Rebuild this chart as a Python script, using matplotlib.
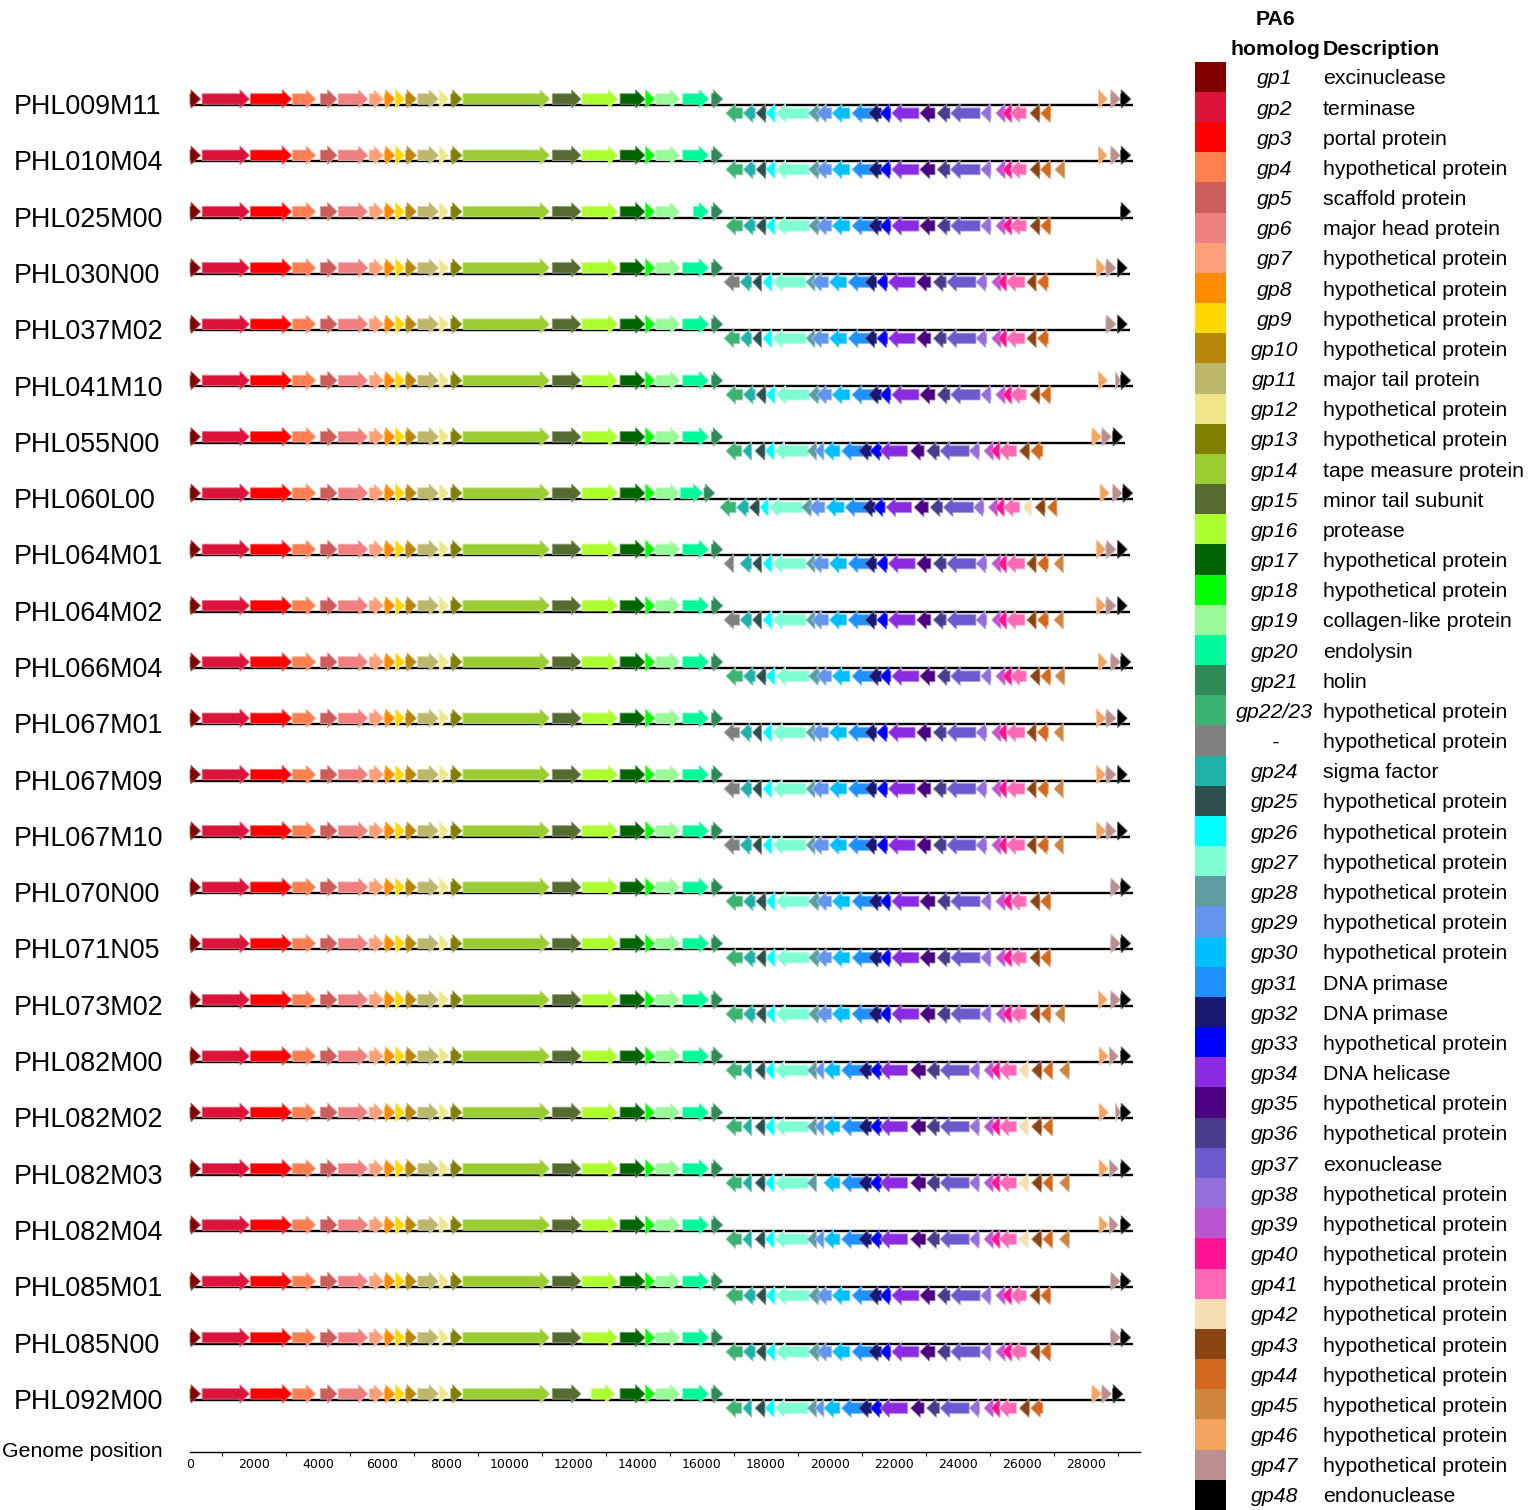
import matplotlib
matplotlib.use('Agg')
import matplotlib.pyplot as plt
from matplotlib.patches import Polygon
from matplotlib.colors import to_rgb

W, H = 1532, 1510

genomes = ['PHL009M11', 'PHL010M04', 'PHL025M00', 'PHL030N00', 'PHL037M02', 'PHL041M10',
           'PHL055N00', 'PHL060L00', 'PHL064M01', 'PHL064M02', 'PHL066M04', 'PHL067M01',
           'PHL067M09', 'PHL067M10', 'PHL070N00', 'PHL071N05', 'PHL073M02', 'PHL082M00',
           'PHL082M02', 'PHL082M03', 'PHL082M04', 'PHL085M01', 'PHL085N00', 'PHL092M00']

# legend table
homologs = ['gp1', 'gp2', 'gp3', 'gp4', 'gp5', 'gp6', 'gp7', 'gp8', 'gp9', 'gp10', 'gp11', 'gp12',
            'gp13', 'gp14', 'gp15', 'gp16', 'gp17', 'gp18', 'gp19', 'gp20', 'gp21', 'gp22/23', '-',
            'gp24', 'gp25', 'gp26', 'gp27', 'gp28', 'gp29', 'gp30', 'gp31', 'gp32', 'gp33', 'gp34',
            'gp35', 'gp36', 'gp37', 'gp38', 'gp39', 'gp40', 'gp41', 'gp42', 'gp43', 'gp44', 'gp45',
            'gp46', 'gp47', 'gp48']
hp = 'hypothetical protein'
descriptions = ['excinuclease', 'terminase', 'portal protein', hp, 'scaffold protein',
                'major head protein', hp, hp, hp, hp, 'major tail protein', hp, hp,
                'tape measure protein', 'minor tail subunit', 'protease', hp, hp,
                'collagen-like protein', 'endolysin', 'holin', hp, hp, 'sigma factor',
                hp, hp, hp, hp, hp, hp, 'DNA primase', 'DNA primase', hp, 'DNA helicase',
                hp, hp, 'exonuclease', hp, hp, hp, hp, hp, hp, hp, hp, hp, hp, 'endonuclease']
colors = ['#800000', '#DC143C', '#FF0000', '#FF7F50', '#CD5C5C', '#F08080', '#FFA07A', '#FF8C00',
          '#FFD700', '#B8860B', '#BDB76B', '#F0E68C', '#808000', '#9ACD32', '#556B2F', '#ADFF2F',
          '#006400', '#00FF00', '#98FB98', '#00FA9A', '#2E8B57', '#3CB371', '#808080', '#20B2AA',
          '#2F4F4F', '#00FFFF', '#7FFFD4', '#5F9EA0', '#6495ED', '#00BFFF', '#1E90FF', '#191970',
          '#0000FF', '#8A2BE2', '#4B0082', '#483D8B', '#6A5ACD', '#9370DB', '#BA55D3', '#FF1493',
          '#FF69B4', '#F5DEB3', '#8B4513', '#D2691E', '#CD853F', '#F4A460', '#BC8F8F', '#000000']

# forward block shared by all genomes (bp)
fwd_genes = ['gp%d' % k for k in range(1, 22)]
fwd_start = [0, 380, 1890, 3200, 4070, 4630, 5600, 6080, 6420, 6740, 7120, 7790, 8150, 8530,
             11320, 12250, 13440, 14230, 14560, 15400, 16290]
fwd_end = [330, 1860, 3180, 3930, 4600, 5560, 6050, 6410, 6720, 7080, 7770, 8090, 8500, 11240,
           12220, 13370, 14220, 14530, 15310, 16210, 16650]

# tail layouts (bp)
layout_a = {'gp22': (16750, 17270), 'gp24': (17290, 17660), 'gp25': (17690, 18000),
            'gp26': (18000, 18280), 'gp27': (18310, 19350), 'gp28': (19330, 19670),
            'gp29': (19580, 20050), 'gp30': (20070, 20620), 'gp31': (20690, 21460),
            'gp32': (21200, 21610), 'gp33': (21560, 21900), 'gp34': (21930, 22780),
            'gp35': (22810, 23280), 'gp36': (23350, 23750), 'gp37': (23770, 24690),
            'gp38': (24710, 25030), 'gp39': (25180, 25470), 'gp40': (25380, 25680),
            'gp41': (25630, 26130), 'gp43': (26250, 26560), 'gp44': (26580, 26900),
            'gp45': (27030, 27340), 'gp46': (28390, 28670), 'gp47': (28770, 29080),
            'gp48': (29080, 29400)}
layout_b = {'gp22': (16690, 17170), 'gp24': (17190, 17550), 'gp25': (17580, 17860),
            'gp26': (17900, 18180), 'gp27': (18210, 19250), 'gp28': (19250, 19530),
            'gp29': (19430, 19950), 'gp30': (19980, 20520), 'gp31': (20570, 21350),
            'gp32': (21090, 21460), 'gp33': (21460, 21800), 'gp34': (21820, 22660),
            'gp35': (22710, 23150), 'gp36': (23230, 23630), 'gp37': (23650, 24560),
            'gp38': (24560, 24900), 'gp39': (25050, 25340), 'gp40': (25240, 25520),
            'gp41': (25500, 26090), 'gp43': (26150, 26440), 'gp44': (26480, 26820),
            'gp45': (27000, 27290), 'gp46': (28330, 28620), 'gp47': (28620, 28940),
            'gp48': (28980, 29290)}
layout_c = {'gp22': (16750, 17240), 'gp24': (17270, 17550), 'gp25': (17660, 17970),
            'gp26': (17970, 18250), 'gp27': (18280, 19320), 'gp28': (19290, 19580),
            'gp29': (19530, 19810), 'gp30': (19810, 20310), 'gp31': (20360, 21150),
            'gp32': (20890, 21300), 'gp33': (21250, 21610), 'gp34': (21560, 22420),
            'gp35': (22520, 22940), 'gp36': (23020, 23420), 'gp37': (23440, 24350),
            'gp38': (24350, 24670), 'gp39': (24810, 25100), 'gp40': (25020, 25310),
            'gp41': (25280, 25830), 'gp43': (25920, 26230), 'gp44': (26270, 26650),
            'gp46': (28180, 28490), 'gp47': (28490, 28800), 'gp48': (28830, 29150)}
layout_d = {'gp22': (16750, 17240), 'gp24': (17270, 17550), 'gp25': (17660, 17970),
            'gp26': (17970, 18250), 'gp27': (18280, 19320), 'gp28': (19290, 19580),
            'gp29': (19530, 19810), 'gp30': (19810, 20310), 'gp31': (20360, 21150),
            'gp32': (20890, 21300), 'gp33': (21250, 21610), 'gp34': (21560, 22420),
            'gp35': (22520, 22990), 'gp36': (23020, 23420), 'gp37': (23440, 24350),
            'gp38': (24350, 24670), 'gp39': (24810, 25100), 'gp40': (25020, 25310),
            'gp41': (25280, 25830), 'gp42': (25890, 26200), 'gp43': (26300, 26620),
            'gp44': (26650, 26960), 'gp45': (27170, 27480), 'gp46': (28410, 28700),
            'gp47': (28730, 29010), 'gp48': (29080, 29400)}
layout_e = {'gp22': (16560, 17060), 'gp24': (17080, 17450), 'gp25': (17480, 17790),
            'gp26': (17810, 18070), 'gp27': (18100, 19150), 'gp28': (19110, 19430),
            'gp29': (19350, 19840), 'gp30': (19880, 20440), 'gp31': (20470, 21200),
            'gp32': (21020, 21410), 'gp33': (21350, 21720), 'gp34': (21750, 22550),
            'gp35': (22630, 23070), 'gp36': (23130, 23520), 'gp37': (23540, 24480),
            'gp38': (24480, 24810), 'gp39': (24950, 25240), 'gp40': (25160, 25440),
            'gp41': (25420, 25920), 'gp42': (26020, 26300), 'gp43': (26410, 26720),
            'gp44': (26790, 27090), 'gp46': (28440, 28730), 'gp47': (28830, 29140),
            'gp48': (29140, 29460)}
layouts = {'A': layout_a, 'B': layout_b, 'C': layout_c, 'D': layout_d, 'E': layout_e}
layout_end = {'A': 29460, 'B': 29375, 'C': 29210, 'D': 29460, 'E': 29460}

genome_layout = ['A', 'A', 'A', 'B', 'B', 'A', 'C', 'E', 'B', 'B', 'A', 'B',
                 'B', 'B', 'A', 'A', 'A', 'D', 'D', 'D', 'D', 'A', 'A', 'C']
# first reverse gene: gp22/23 homolog or the unassigned grey one
genome_first = ['gp22', 'gp22', 'gp22', '-', 'gp22', 'gp22', 'gp22', 'gp22', '-', '-', 'gp22', '-',
                '-', '-', 'gp22', 'gp22', 'gp22', 'gp22', 'gp22', 'gp22', 'gp22', 'gp22', 'gp22', 'gp22']
genome_drop = [{'gp45'}, set(), {'gp45', 'gp46', 'gp47'}, {'gp45'}, {'gp45', 'gp46'}, {'gp45'},
               set(), set(), set(), set(), set(), set(),
               set(), set(), {'gp45', 'gp46'}, {'gp45', 'gp46'}, set(), set(),
               {'gp45'}, {'gp29'}, set(), {'gp45', 'gp46'}, {'gp45', 'gp46'}, set()]
genome_edit = [{}, {}, {'gp20': (15730, 16210)}, {}, {}, {'gp47': (28920, 29080)},
               {}, {'gp20': (15330, 16030), 'gp21': (16060, 16400)}, {'gp22': (16690, 16990)}, {}, {}, {},
               {}, {}, {}, {}, {}, {},
               {'gp47': (28920, 29080)}, {}, {}, {}, {}, {'gp16': (12540, 13280)}]

color_of = dict(zip(homologs, colors))
color_of['gp22'] = color_of['gp22/23']

# geometry (row units, bp)
ROW0, ROWSTEP = 105, 56.3
HEAD_LEN = 300
HEAD_H = 18.6 / ROWSTEP
BODY_H = 10.5 / ROWSTEP
FWD_Y = -6.0 / ROWSTEP
REV_Y = 8.2 / ROWSTEP

plt.rcParams['font.family'] = ['Liberation Sans', 'DejaVu Sans']

fig = plt.figure(figsize=(W / 100, H / 100), dpi=100)


def px_box(x0, y0, x1, y1):
    return [x0 / W, 1 - y1 / H, (x1 - x0) / W, (y1 - y0) / H]


AX_TOP, AX_BOT = 75, 1452
ax = fig.add_axes(px_box(180, AX_TOP, 1150, AX_BOT))
ax.set_xlim((180 - 190) / 0.032, (1150 - 190) / 0.032)
ax.set_ylim((AX_BOT - ROW0) / ROWSTEP, (AX_TOP - ROW0) / ROWSTEP)


def draw_gene(row, s, e, strand, col):
    hl = min(HEAD_LEN, e - s)
    hh, bh = HEAD_H / 2, BODY_H / 2
    yc = row + (FWD_Y if strand > 0 else REV_Y)
    if strand > 0:
        b = e - hl
        pts = [(s, yc - bh), (b, yc - bh), (b, yc - hh), (e, yc), (b, yc + hh), (b, yc + bh), (s, yc + bh)]
    else:
        b = s + hl
        pts = [(e, yc - bh), (b, yc - bh), (b, yc - hh), (s, yc), (b, yc + hh), (b, yc + bh), (e, yc + bh)]
    rgb = to_rgb(col)
    edge = tuple(0.6 * c + 0.4 for c in rgb)
    ax.add_patch(Polygon(pts, closed=True, facecolor=col, edgecolor=edge, lw=0.6, zorder=3))


for i, name in enumerate(genomes):
    lay = genome_layout[i]
    ax.plot([0, layout_end[lay]], [i, i], color='black', lw=1.7, zorder=2, solid_capstyle='butt')
    edits = genome_edit[i]
    for g, s, e in zip(fwd_genes, fwd_start, fwd_end):
        s, e = edits.get(g, (s, e))
        draw_gene(i, s, e, 1, color_of[g])
    for g, (s, e) in layouts[lay].items():
        if g in genome_drop[i]:
            continue
        s, e = edits.get(g, (s, e))
        strand = 1 if g in ('gp46', 'gp47', 'gp48') else -1
        col = color_of[genome_first[i]] if g == 'gp22' else color_of[g]
        draw_gene(i, s, e, strand, col)
    fig.text(14 / W, 1 - (ROW0 + i * ROWSTEP + 2) / H, name, fontsize=19.4, ha='left', va='center')

for sp in ['top', 'left', 'right']:
    ax.spines[sp].set_visible(False)
ax.spines['bottom'].set_bounds(0, 29700)
ax.spines['bottom'].set_linewidth(1.0)
ax.set_yticks([])
ax.set_xticks(range(0, 28001, 2000))
ax.set_xticklabels([str(v) for v in range(0, 28001, 2000)], fontsize=9, family='DejaVu Sans')
ax.set_xticks([0] + list(range(1000, 29001, 2000)), minor=True)
ax.tick_params(axis='x', which='major', length=0, pad=4)
ax.tick_params(axis='x', which='minor', length=3, width=0.8, direction='out')
fig.text(2 / W, 1 - 1457 / H, 'Genome position', fontsize=15.3, ha='left', va='baseline')

# legend
LG0, LGSTEP = 76.8, 30.17
lax = fig.add_axes([1180 / W, 0, 352 / W, 1])
lax.set_xlim(1180, 1532)
lax.set_ylim((H - LG0) / LGSTEP, -LG0 / LGSTEP)
lax.axis('off')
lax.barh(range(len(homologs)), 31, left=1195, height=1.0, color=colors)
for k, (hname, desc) in enumerate(zip(homologs, descriptions)):
    lax.text(1275, k + 0.07, hname, fontsize=15.3, style='italic', ha='center', va='center')
    lax.text(1323, k + 0.07, desc, fontsize=15.3, ha='left', va='center')
lax.text(1275, (19.3 - LG0) / LGSTEP, 'PA6', fontsize=15.3, weight='bold', ha='center', va='center')
lax.text(1275, (49.3 - LG0) / LGSTEP, 'homolog', fontsize=15.3, weight='bold', ha='center', va='center')
lax.text(1323, (49.3 - LG0) / LGSTEP, 'Description', fontsize=15.3, weight='bold', ha='left', va='center')

fig.savefig('out.png', dpi=100)
